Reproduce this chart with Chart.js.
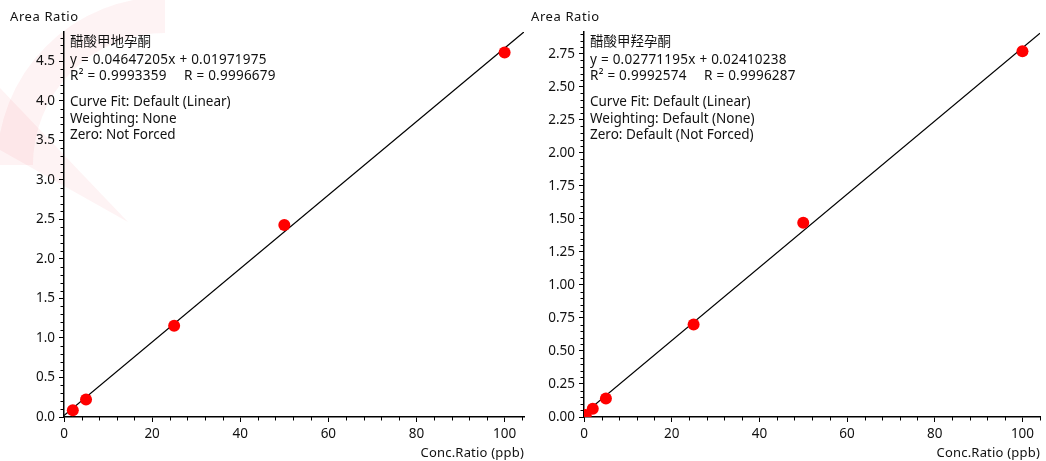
<!DOCTYPE html>
<html>
<head>
<meta charset="utf-8">
<script src="https://cdn.jsdelivr.net/npm/chart.js@4.4.1/dist/chart.umd.min.js"></script>
<style>
  html, body { margin: 0; padding: 0; background: #fff; width: 1046px; height: 461px; overflow: hidden; }
  canvas { position: absolute; top: 0; }
  #calA { left: 0; }
  #calB { left: 520px; }
</style>
</head>
<body>
<canvas id="calA" width="530" height="461"></canvas>
<canvas id="calB" width="526" height="461"></canvas>
<script>
// ---- Calibration A: 醋酸甲地孕酮 ----
const nameA = '醋酸甲地孕酮';
const concA = [2, 5, 25, 50, 100];
const ratioA = [0.085, 0.22, 1.155, 2.43, 4.61];
const slopeA = 0.04647205;
const interceptA = 0.01971975;
const r2A = '0.9993359';
const rA = '0.9996679';
const fitNotesA = ['Curve Fit: Default (Linear)', 'Weighting: None', 'Zero: Not Forced'];

// ---- Calibration B: 醋酸甲羟孕酮 ----
const nameB = '醋酸甲羟孕酮';
const concB = [0.4, 2, 5, 25, 50, 100];
const ratioB = [0.015, 0.062, 0.14, 0.70, 1.47, 2.77];
const slopeB = 0.02771195;
const interceptB = 0.02410238;
const r2B = '0.9992574';
const rB = '0.9996287';
const fitNotesB = ['Curve Fit: Default (Linear)', 'Weighting: Default (None)', 'Zero: Default (Not Forced)'];

// ---- axis ticks ----
const xTickStep = 20, xMinorStep = 4;
const yTickStepA = 0.5, yMinorStepA = 0.1;
const yTickStepB = 0.25, yMinorStepB = 0.05;

const xTitle = 'Conc.Ratio (ppb)';
const yTitle = 'Area Ratio';

const FONT = '"Noto Sans", "Noto Sans CJK SC", sans-serif';
const INK = '#111';

function isMajor(v, step) {
  const q = v / step;
  return Math.abs(q - Math.round(q)) < 1e-6;
}

// minor ticks, axis titles and the fit summary text
function decorPlugin(cfg) {
  return {
    id: 'decor',
    beforeDraw(chart) {
      if (!cfg.watermark) return;
      const ctx = chart.ctx;
      ctx.save();
      ctx.fillStyle = 'rgba(235, 40, 50, 0.055)';
      ctx.strokeStyle = 'rgba(235, 40, 50, 0.055)';
      ctx.lineWidth = 36;
      ctx.beginPath();
      ctx.arc(165, 165, 150, Math.PI * 1.0, Math.PI * 1.5);
      ctx.stroke();
      ctx.beginPath();
      ctx.moveTo(0, 88);
      ctx.lineTo(0, 150);
      ctx.lineTo(128, 222);
      ctx.closePath();
      ctx.fill();
      ctx.restore();
    },
    afterDraw(chart) {
      const ctx = chart.ctx;
      const xs = chart.scales.x, ys = chart.scales.y;
      const area = chart.chartArea;
      ctx.save();
      ctx.strokeStyle = '#000';
      ctx.lineWidth = 1;
      ctx.beginPath();
      for (let i = 0; ; i++) {
        const v = +(i * cfg.yMinor).toFixed(6);
        if (v > ys.max + 1e-9) break;
        if (isMajor(v, cfg.yMajor)) continue;
        const py = Math.round(ys.getPixelForValue(v)) + 0.5;
        ctx.moveTo(area.left - 3.5, py);
        ctx.lineTo(area.left, py);
      }
      for (let i = 0; ; i++) {
        const v = i * xMinorStep;
        if (v > xs.max + 1e-9) break;
        if (isMajor(v, xTickStep)) continue;
        const px = Math.round(xs.getPixelForValue(v)) + 0.5;
        ctx.moveTo(px, area.bottom);
        ctx.lineTo(px, area.bottom + 3.5);
      }
      ctx.stroke();

      ctx.fillStyle = INK;
      ctx.textBaseline = 'middle';
      ctx.font = '13px ' + FONT;
      ctx.letterSpacing = '0.6px';
      ctx.textAlign = 'left';
      ctx.fillText(yTitle, cfg.yTitleX, 17);
      ctx.letterSpacing = '0.2px';
      ctx.textAlign = 'right';
      ctx.fillText(xTitle, area.right, 453);

      ctx.textAlign = 'left';
      ctx.font = '13.5px ' + FONT;
      const tx = area.left + 6;
      const top = area.top;
      ctx.letterSpacing = '0px';
      ctx.fillText(cfg.name, tx, top + 10);
      cfg.notes.forEach((t, i) => ctx.fillText(t, tx, top + 70 + i * 16.7));
      // equation and correlation lines are set a touch looser
      ctx.letterSpacing = '0.25px';
      ctx.fillText('y = ' + cfg.slope.toFixed(8) + 'x + ' + cfg.intercept.toFixed(8), tx, top + 28);
      ctx.fillText('R\u00B2 = ' + cfg.r2, tx, top + 44.5);
      ctx.fillText('R = ' + cfg.r, area.left + 120, top + 44.5);
      ctx.restore();
    }
  };
}

function buildChart(id, cfg) {
  const points = cfg.conc.map((c, i) => ({ x: c, y: cfg.ratio[i] }));
  const fit = [
    { x: 0, y: cfg.intercept },
    { x: cfg.xMax, y: cfg.slope * cfg.xMax + cfg.intercept }
  ];
  return new Chart(document.getElementById(id), {
    type: 'scatter',
    data: {
      datasets: [
        {
          data: points,
          backgroundColor: '#ff0000',
          borderWidth: 0,
          pointRadius: 6,
          pointHoverRadius: 6,
          order: 1
        },
        {
          data: fit,
          showLine: true,
          borderColor: '#000',
          borderWidth: 1.2,
          pointRadius: 0,
          order: 2
        }
      ]
    },
    options: {
      responsive: false,
      animation: false,
      devicePixelRatio: 1,
      layout: { padding: { top: 32, right: cfg.padRight, bottom: 0, left: 0 } },
      plugins: { legend: { display: false }, tooltip: { enabled: false } },
      scales: {
        x: {
          type: 'linear',
          min: 0,
          max: cfg.xMax,
          afterFit(s) { s.height = 44; },
          border: { display: true, color: '#000', width: 1.5 },
          grid: { display: true, drawOnChartArea: false, drawTicks: true, tickLength: 5, tickColor: '#000', tickWidth: 1 },
          ticks: {
            stepSize: xTickStep,
            includeBounds: false,
            maxRotation: 0,
            autoSkip: false,
            padding: 4,
            color: INK,
            font: { family: FONT, size: 13.5 },
            callback: v => String(Math.round(v))
          }
        },
        y: {
          type: 'linear',
          min: 0,
          max: cfg.yMax,
          afterFit(s) { s.width = 64; },
          border: { display: true, color: '#000', width: 1.5 },
          grid: { display: true, drawOnChartArea: false, drawTicks: true, tickLength: 5, tickColor: '#000', tickWidth: 1 },
          ticks: {
            stepSize: cfg.yMajor,
            includeBounds: false,
            autoSkip: false,
            padding: 4,
            color: INK,
            font: { family: FONT, size: 13.5 },
            callback: v => Number(v).toFixed(cfg.decimals)
          }
        }
      }
    },
    plugins: [decorPlugin(cfg)]
  });
}

buildChart('calA', {
  name: nameA, conc: concA, ratio: ratioA, slope: slopeA, intercept: interceptA,
  r2: r2A, r: rA, notes: fitNotesA,
  xMax: 104.4, yMax: 4.87, yMajor: yTickStepA, yMinor: yMinorStepA, decimals: 1,
  padRight: 5, yTitleX: 10, watermark: true
});

buildChart('calB', {
  name: nameB, conc: concB, ratio: ratioB, slope: slopeB, intercept: interceptB,
  r2: r2B, r: rB, notes: fitNotesB,
  xMax: 104, yMax: 2.915, yMajor: yTickStepB, yMinor: yMinorStepB, decimals: 2,
  padRight: 2, yTitleX: 11, watermark: false
});
</script>
</body>
</html>
